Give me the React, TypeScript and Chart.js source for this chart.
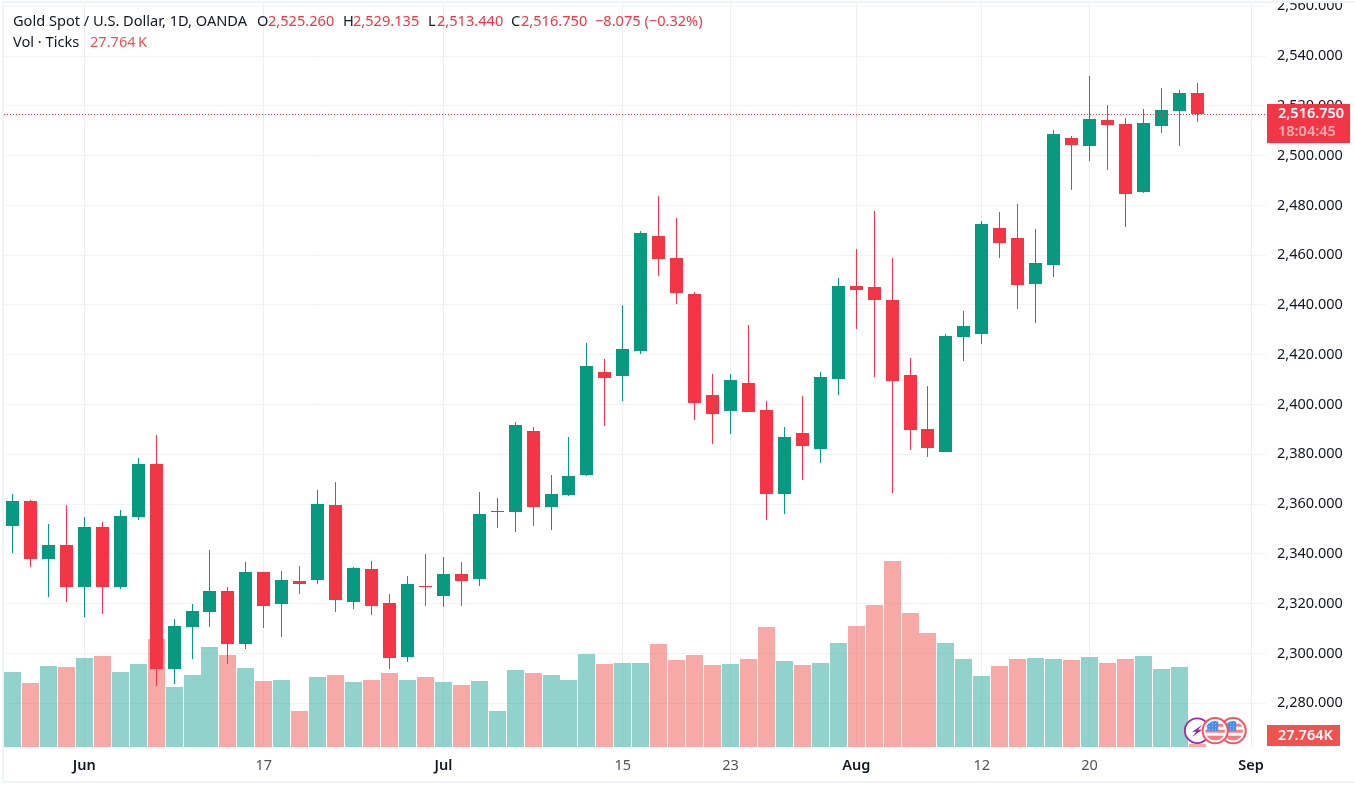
import React, { useEffect, useRef } from "react";
import { Chart, registerables } from "chart.js";

Chart.register(...registerables);

const opens = [2351.3,2361.34,2338.04,2343.67,2326.8,2350.9,2326.8,2354.91,2376.2,2293.86,2310.73,2316.75,2325.19,2303.9,2332.82,2319.97,2329.21,2329.61,2359.73,2320.77,2334.03,2320.37,2298.68,2327.2,2323.18,2332.02,2330.01,2357.05,2356.92,2389.46,2358.93,2363.75,2371.78,2413.15,2411.55,2421.59,2467.78,2458.94,2444.48,2403.91,2397.49,2408.73,2397.89,2364.15,2388.65,2382.23,2410.34,2447.7,2447.29,2442.07,2411.7,2390.26,2381.02,2426.96,2428.17,2470.74,2466.73,2448.25,2455.88,2506.89,2503.68,2514.12,2512.52,2485.2,2511.71,2517.74,2525.26];
const highs = [2364.15,2361.74,2352.1,2359.73,2354.91,2352.9,2357.72,2378.61,2387.85,2313.94,2319.97,2341.66,2326.8,2336.84,2332.82,2333.22,2335.23,2365.76,2368.97,2334.83,2337.24,2323.98,2331.21,2340.05,2338.85,2336.84,2364.95,2362.54,2393.07,2391.06,2371.78,2387.05,2424.8,2418.37,2440.06,2469.79,2483.85,2475,2445.29,2412.35,2412.35,2432.03,2401.5,2391.06,2403.51,2413.15,2450.91,2462.56,2477.82,2458.94,2418.53,2407.28,2428.17,2437.41,2473.55,2477.17,2480.38,2470.34,2510.11,2507.7,2531.8,2520.15,2514.93,2518.54,2526.98,2526.17,2529.135];
const lows = [2340.45,2334.83,2322.78,2320.77,2314.75,2315.95,2326,2353.71,2287.03,2287.84,2297.88,2310.73,2295.87,2301.9,2310.33,2306.71,2323.98,2328,2316.75,2317.96,2315.55,2293.86,2296.67,2319.16,2318.76,2319.16,2327.2,2350.49,2348.89,2351.3,2349.69,2363.35,2371.38,2391.46,2401.5,2420.38,2451.71,2440.47,2393.87,2384.23,2388.25,2397.09,2353.71,2356.12,2369.77,2376.6,2403.91,2430.42,2411.14,2364.55,2381.82,2379.01,2381.02,2417.32,2424.15,2458.69,2438.21,2432.59,2451.06,2486.01,2497.65,2494.04,2471.14,2484.8,2508.9,2503.68,2513.44];
const closes = [2361.34,2338.04,2343.67,2326.8,2350.9,2326.8,2355.31,2376.2,2293.86,2311.13,2317.16,2325.19,2303.9,2332.82,2319.16,2329.61,2328,2360.13,2321.57,2334.43,2319.16,2298.28,2328,2327,2332.02,2329.21,2356.12,2357.3,2391.86,2358.93,2364.15,2371.38,2415.56,2410.74,2422.39,2468.98,2458.54,2444.88,2400.7,2396.28,2409.94,2397.09,2364.15,2387.05,2383.43,2411.14,2447.7,2446.09,2442.07,2409.54,2389.86,2382.63,2427.36,2431.38,2472.35,2464.72,2447.85,2456.69,2508.5,2504.08,2514.52,2512.11,2484.4,2512.92,2518.14,2524.97,2516.75];
const volumesK = [600,512,648,640,712,728,600,664,864,480,576,800,736,632,528,536,288,560,576,520,536,592,536,560,520,496,528,288,616,592,576,536,744,664,672,672,824,696,736,656,664,704,960,688,656,672,832,968,1136,1488,1072,912,832,704,568,648,704,712,704,696,720,672,704,728,624,640,27.764];

const priceTicks = [2280,2300,2320,2340,2360,2380,2400,2420,2440,2460,2480,2500,2520,2540,2560];
const timeTickSlots = [4,14,24,34,40,47,54,60,69];
const timeTickLabels = ["Jun","17","Jul","15","23","Aug","12","20","Sep"];
const monthLabels = ["Jun","Jul","Aug","Sep"];

const lastPrice = 2516.75;
const GREEN = "#089981";
const RED = "#F23645";
const VOL_GREEN = "rgba(38,166,154,0.5)";
const VOL_RED = "rgba(239,83,80,0.5)";
const FONT = '"Noto Sans", sans-serif';
const INK = "#131722";

const slots = opens.map((_, i) => i);
const isUp = (i: number) => closes[i] >= opens[i];

const snapBars = {
  id: "snapBars",
  beforeDatasetsDraw(chart: any) {
    chart.data.datasets.forEach((_: any, d: number) => {
      chart.getDatasetMeta(d).data.forEach((el: any) => {
        const left = Math.round(el.x - el.width / 2);
        el.x = left + el.width / 2;
        const y = Math.round(el.y);
        let base = Math.round(el.base);
        if (base === y) base = y + 1;
        el.y = y;
        el.base = base;
      });
    });
  },
};

function drawText(ctx: any, text: string, x: number, y: number, color: string, font: string) {
  ctx.font = font;
  ctx.fillStyle = color;
  ctx.textAlign = "left";
  ctx.textBaseline = "middle";
  ctx.fillText(text, x, y);
}

function drawBolt(ctx: any, cx: number, cy: number) {
  ctx.beginPath();
  ctx.arc(cx, cy, 12.4, 0, Math.PI * 2);
  ctx.fillStyle = "#fff";
  ctx.fill();
  ctx.lineWidth = 1.8;
  ctx.strokeStyle = "#9C27B0";
  ctx.stroke();
  ctx.beginPath();
  ctx.moveTo(cx + 5, cy - 6);
  ctx.lineTo(cx - 5, cy + 1);
  ctx.lineTo(cx - 1, cy + 1);
  ctx.lineTo(cx - 5, cy + 6);
  ctx.lineTo(cx + 5, cy - 1);
  ctx.lineTo(cx + 1, cy - 1);
  ctx.closePath();
  ctx.fillStyle = "#9C27B0";
  ctx.fill();
}

function drawFlag(ctx: any, cx: number, cy: number) {
  ctx.beginPath();
  ctx.arc(cx, cy, 12.6, 0, Math.PI * 2);
  ctx.fillStyle = "#fff";
  ctx.fill();
  ctx.lineWidth = 2;
  ctx.strokeStyle = "#F7525F";
  ctx.stroke();
  ctx.save();
  ctx.beginPath();
  ctx.arc(cx, cy, 9.8, 0, Math.PI * 2);
  ctx.clip();
  ctx.fillStyle = "#fff";
  ctx.fillRect(cx - 11, cy - 11, 22, 22);
  ctx.fillStyle = "#F77C80";
  ctx.fillRect(cx - 11, cy - 7, 22, 3);
  ctx.fillRect(cx - 11, cy - 1, 22, 3);
  ctx.fillRect(cx - 11, cy + 5, 22, 5);
  ctx.fillStyle = "#3D8EEF";
  ctx.fillRect(cx - 8, cy - 11, 11, 11);
  ctx.fillStyle = "#BBD8FA";
  for (let row = 0; row < 3; row++) {
    for (let col = 0; col < 3; col++) {
      ctx.fillRect(cx - 6.5 + col * 3.2, cy - 7.5 + row * 2.8, 1, 1);
    }
  }
  ctx.restore();
}

const overlay = {
  id: "overlay",
  afterDraw(chart: any) {
    const { ctx, chartArea, scales } = chart;
    const yLast = Math.round(scales.y.getPixelForValue(lastPrice));
    ctx.save();

    ctx.beginPath();
    ctx.setLineDash([1, 2]);
    ctx.lineWidth = 1;
    ctx.strokeStyle = RED;
    ctx.moveTo(chartArea.left, yLast + 0.5);
    ctx.lineTo(chartArea.right, yLast + 0.5);
    ctx.stroke();
    ctx.setLineDash([]);

    const iconY = 730.7;
    drawBolt(ctx, scales.x.getPixelForValue(66), iconY);
    drawFlag(ctx, scales.x.getPixelForValue(68), iconY);
    drawFlag(ctx, scales.x.getPixelForValue(67), iconY);

    const F = `14.6px ${FONT}`;
    drawText(ctx, "Gold Spot / U.S. Dollar, 1D, OANDA", 13, 22, INK, F);
    const ohlc: [string, number, string, number][] = [
      ["O", 257, "2,525.260", 268],
      ["H", 343, "2,529.135", 353],
      ["L", 428, "2,513.440", 437],
      ["C", 511, "2,516.750", 521],
    ];
    ohlc.forEach(([k, kx, v, vx]) => {
      drawText(ctx, k, kx, 22, INK, F);
      drawText(ctx, v, vx, 22, RED, F);
    });
    drawText(ctx, "\u22128.075 (\u22120.32%)", 595, 22, RED, F);
    drawText(ctx, "Vol \u00b7 Ticks", 13, 43, INK, F);
    drawText(ctx, "27.764\u2009K", 90, 43, "#EF5350", F);

    ctx.fillStyle = RED;
    ctx.fillRect(1267, 104, 83, 39);
    drawText(ctx, "2,516.750", 1278, 114, "#fff", `600 14.5px ${FONT}`);
    drawText(ctx, "18:04:45", 1278, 132, "rgba(255,255,255,0.6)", `600 14.5px ${FONT}`);

    ctx.fillStyle = "#EF5350";
    ctx.fillRect(1267, 725, 73, 21);
    drawText(ctx, "27.764K", 1278, 735.5, "#fff", `600 14.5px ${FONT}`);

    ctx.fillStyle = "#fff";
    ctx.fillRect(0, 0, 1355, 1);
    ctx.fillStyle = "#F0F3FA";
    ctx.fillRect(2, 1, 1353, 2);
    ctx.fillRect(2, 1, 2, 782);
    ctx.fillRect(2, 781, 1353, 2);
    ctx.restore();
  },
};

export default function App() {
  const ref = useRef<HTMLCanvasElement>(null);
  useEffect(() => {
    const chart = new Chart(ref.current as HTMLCanvasElement, {
      type: "bar",
      data: {
        datasets: [
          {
            label: "Volume",
            yAxisID: "v",
            order: 3,
            grouped: false,
            barThickness: 17,
            inflateAmount: 0,
            borderWidth: 0,
            data: slots.map((i) => ({ x: i, y: volumesK[i] })),
            backgroundColor: slots.map((i) => (isUp(i) ? VOL_GREEN : VOL_RED)),
          },
          {
            label: "Wick",
            yAxisID: "y",
            order: 2,
            grouped: false,
            barThickness: 1,
            inflateAmount: 0,
            borderWidth: 0,
            data: slots.map((i) => ({ x: i, y: [lows[i], highs[i]] })),
            backgroundColor: slots.map((i) => (isUp(i) ? GREEN : RED)),
          },
          {
            label: "Body",
            yAxisID: "y",
            order: 1,
            grouped: false,
            barThickness: 13,
            inflateAmount: 0,
            borderWidth: 0,
            data: slots.map((i) => ({
              x: i,
              y: [Math.min(opens[i], closes[i]), Math.max(opens[i], closes[i])],
            })),
            backgroundColor: slots.map((i) => (isUp(i) ? GREEN : RED)),
          },
        ],
      } as any,
      options: {
        responsive: false,
        animation: false,
        devicePixelRatio: 1,
        events: [],
        layout: { padding: { left: 4, right: 0, top: 3, bottom: 5 } },
        plugins: { legend: { display: false }, tooltip: { enabled: false }, title: { display: false } },
        scales: {
          x: {
            type: "linear",
            min: -0.4735,
            max: 69.83,
            offset: false,
            border: { display: false },
            grid: { color: "#EDEEF2", drawTicks: false, offset: false },
            afterBuildTicks: (s: any) => {
              s.ticks = timeTickSlots.map((value) => ({ value }));
            },
            afterFit: (s: any) => {
              s.height = 34;
              s.paddingLeft = 0;
              s.paddingRight = 0;
            },
            ticks: {
              autoSkip: false,
              maxRotation: 0,
              padding: 10,
              callback: (v: any) => timeTickLabels[timeTickSlots.indexOf(Number(v))],
              color: (c: any) => (monthLabels.includes(c.tick?.label) ? INK : "#50535E"),
              font: (c: any) => ({
                family: FONT,
                size: 14.5,
                weight: monthLabels.includes(c.tick?.label) ? 600 : 400,
              }),
            },
          },
          y: {
            type: "linear",
            position: "right",
            min: 2262.45,
            max: 2561.29,
            border: { display: false },
            grid: { color: "#F2F3F5", drawTicks: false },
            afterBuildTicks: (s: any) => {
              s.ticks = priceTicks.map((value) => ({ value }));
            },
            afterFit: (s: any) => {
              s.width = 89;
              s.paddingTop = 0;
              s.paddingBottom = 0;
            },
            ticks: {
              autoSkip: false,
              padding: 11,
              crossAlign: "near",
              color: INK,
              font: { family: FONT, size: 14.5 },
              callback: (v: any) =>
                Number(v).toLocaleString("en-US", { minimumFractionDigits: 3, maximumFractionDigits: 3 }),
            },
          },
          v: {
            type: "linear",
            display: false,
            min: 0,
            max: 5952,
            grid: { display: false },
          },
        },
      } as any,
      plugins: [snapBars, overlay],
    });
    return () => chart.destroy();
  }, []);
  return (
    <div style={{ position: "absolute", left: 0, top: 0, width: 1355, height: 786, background: "#fff" }}>
      <canvas ref={ref} width={1355} height={786} style={{ display: "block" }} />
    </div>
  );
}
